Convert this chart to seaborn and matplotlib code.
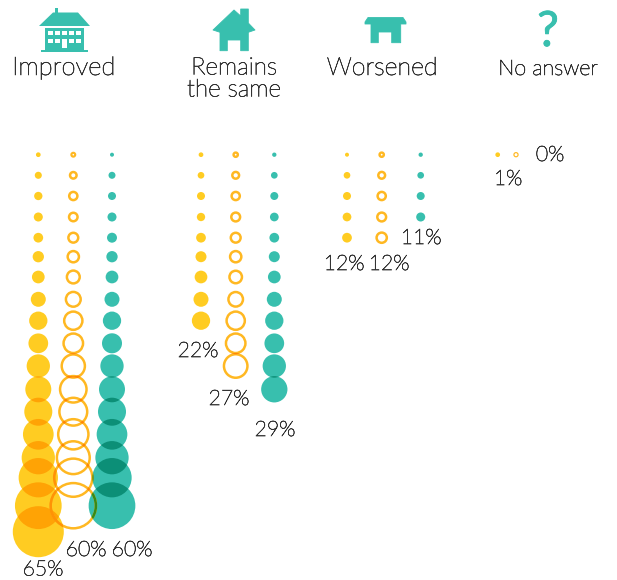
import numpy as np
import pandas as pd
import matplotlib
matplotlib.use("Agg")
import matplotlib.pyplot as plt
import matplotlib.patheffects as pe
import seaborn as sns
from matplotlib.patches import PathPatch, Polygon, Rectangle
from matplotlib.path import Path
from matplotlib.transforms import Affine2D

# bubble values, top row first
improved_fill = [6, 9, 10.6, 11.5, 12.4, 14.4, 16.2, 19.1, 23.3, 25.1, 29.7, 33.1, 35.7, 39.1, 42.4, 50.1, 59.5, 65]
improved_ring = [7.6, 11.5, 13.6, 14, 15.7, 17.5, 19.5, 22, 26.4, 28, 32.7, 36.9, 38.6, 41.7, 45, 51.8, 60.8]
improved_teal = [5.1, 8.9, 10.2, 11.5, 12.7, 14.4, 16.2, 19.1, 23.3, 25.5, 29.7, 33.1, 35.7, 39.1, 42.4, 50.1, 59.5]
same_fill = [6, 8.5, 10.2, 10.6, 12.4, 14, 16.2, 19.1, 23.3]
same_ring = [8.5, 11.8, 13.6, 14.4, 15.7, 17.5, 19.1, 21.7, 26.4, 28, 33.1]
same_teal = [5.5, 8.5, 10.2, 11.1, 12.4, 14, 16.2, 19.1, 23.3, 25.1, 29.7, 33.5]
worse_fill = [5.1, 8.5, 10.2, 11.1, 12.4]
worse_ring = [8.5, 11.8, 13.6, 14.4, 16.2]
worse_teal = [5.5, 8.5, 10.2, 11.5]
none_fill = [6]
none_ring = [6.8]

value_labels = ["65%", "60%", "60%", "22%", "27%", "29%", "12%", "12%", "11%", "1%", "0%"]
group_labels = ["Improved", "Remains", "the same", "Worsened", "No answer"]

# layout, the axes run in figure pixels
row_y = [154.7, 175.3, 196, 217, 237.7, 256.7, 277, 299.3, 320.7, 343.3, 366, 389.3,
         411.7, 434.3, 457.7, 477.7, 505.7, 531.7]
label_xy = [(43, 569.5), (86, 550), (132, 550), (198, 351), (229, 399), (275, 430),
            (344, 264), (389, 264), (421, 238), (508, 179), (550, 155)]
DIAM = 0.785
YELLOW, RING, TEAL = "#FFCC22", "#FFB822", "#38BFAE"
TEXT = "#333333"

series = [
    ("Improved", "fill", 38.3, improved_fill), ("Improved", "ring", 73.3, improved_ring),
    ("Improved", "teal", 112, improved_teal), ("Same", "fill", 201, same_fill),
    ("Same", "ring", 235.7, same_ring), ("Same", "teal", 274.3, same_teal),
    ("Worse", "fill", 347, worse_fill), ("Worse", "ring", 381.7, worse_ring),
    ("Worse", "teal", 420.7, worse_teal), ("None", "fill", 497.7, none_fill),
    ("None", "ring", 516, none_ring),
]
rows = []
for group, kind, x, vals in series:
    for i, v in enumerate(vals):
        rows.append({"group": group, "kind": kind, "x": x, "y": row_y[i], "d": v * DIAM})
df = pd.DataFrame(rows)
# the tiniest rings have a thinner stroke so the hole stays open
df["lw"] = np.where(df["group"] == "None", 1.2, np.minimum(df["d"] * 0.36, 2.5))

sns.set_style("white")
plt.rcParams["font.family"] = ["Lato", "DejaVu Sans"]
fig = plt.figure(figsize=(6.17, 5.80), dpi=100)
ax = fig.add_axes([0, 0, 1, 1])
PX = 72 / fig.dpi
THICKEN = [pe.withStroke(linewidth=0.45, foreground=TEXT)]


def to_rgb(c):
    return np.array(matplotlib.colors.to_rgb(c))


def shape(row):
    r = row.d / 2
    outer = Path.unit_circle().transformed(Affine2D().scale(r).translate(row.x, row.y))
    if row.kind != "ring":
        return outer
    # the flip reverses the winding so the inner circle cuts a hole
    inner = Path.unit_circle().transformed(Affine2D().scale(r - row.lw, -(r - row.lw)).translate(row.x, row.y))
    return Path.make_compound_path(outer, inner)


colors = {"fill": YELLOW, "ring": RING, "teal": TEAL}
for kind, color in [("fill", YELLOW), ("teal", TEAL)]:
    sub = df[df["kind"] == kind]
    sns.scatterplot(data=sub, x="x", y="y", s=(sub["d"] * PX) ** 2, color=color, linewidth=0, ax=ax, zorder=2)

ring_df = df[df["kind"] == "ring"]
sns.scatterplot(data=ring_df, x="x", y="y", s=((ring_df["d"] - ring_df["lw"]) * PX) ** 2, color=RING, ax=ax, zorder=4)
coll = ax.collections[-1]
coll.set_facecolor("none")
coll.set_edgecolor(RING)
coll.set_linewidths(ring_df["lw"].values * PX)

# multiply look where bubbles overlap, fills first and ring crossings on top
marks = pd.concat([df[df["kind"] != "ring"], df[df["kind"] == "ring"]])
marks = list(marks.itertuples())
for i, a in enumerate(marks):
    for b in marks[i + 1:]:
        if a.group != b.group or np.hypot(a.x - b.x, a.y - b.y) >= (a.d + b.d) / 2:
            continue
        has_ring = a.kind == "ring" or b.kind == "ring"
        mix = to_rgb(colors[a.kind]) * to_rgb(colors[b.kind])
        p = PathPatch(shape(b), fc=mix, lw=0, zorder=5 if has_ring else 3)
        ax.add_patch(p)
        p.set_clip_path(shape(a), ax.transData)


def label(x, y, s, size):
    ax.text(x, y, s, ha="center", va="center", fontsize=size, fontweight="light", color=TEXT, path_effects=THICKEN)


for (x, y), s in zip(label_xy, value_labels):
    label(x, y, s, 15.3)

label(64, 68, group_labels[0], 18.5)
label(234, 68, group_labels[1], 17.5)
label(234, 90, group_labels[2], 17.5)
label(382, 68, group_labels[3], 18)
label(548, 69, group_labels[4], 15.5)

# icons
ax.add_patch(Polygon([(39, 26), (53, 12.5), (55, 12.5), (55, 8), (58, 8), (58, 12.5), (78, 12.5), (90, 26)], fc=TEAL, lw=0))
ax.add_patch(Rectangle((45, 28), 39, 22, fc=TEAL, lw=0))
ax.add_patch(Rectangle((41, 49.5), 46.5, 2.5, fc=TEAL, lw=0))
for wx in [48.3, 55, 62.3, 69, 76]:
    ax.add_patch(Rectangle((wx, 30.7), 5, 4.3, fc="white", lw=0))
    ax.add_patch(Rectangle((wx, 38.7), 5, 4.3, fc="white", lw=0))
ax.add_patch(Rectangle((62.3, 38.7), 5, 9.7, fc="white", lw=0))

ax.add_patch(Polygon([(213, 30), (234, 10), (240.7, 16), (240.7, 9), (248.3, 9), (248.3, 23), (255, 30), (248.3, 32.3),
                      (248.3, 50.7), (240.7, 50.7), (240.7, 40), (227.3, 40), (227.3, 50.7), (220, 50.7), (220, 32.3)],
                     fc=TEAL, ec=TEAL, lw=0.6, joinstyle="round"))

ax.add_patch(Polygon([(365, 22), (368, 17.5), (403, 17.5), (406, 22), (406, 24), (400.7, 24), (400.7, 42.7), (391.7, 42.7),
                      (391.7, 32), (378.3, 32), (378.3, 42.7), (371, 42.7), (371, 24), (365, 24)],
                     fc=TEAL, ec=TEAL, lw=0.6, joinstyle="round"))
ax.text(548, 32, "?", ha="center", va="center", fontsize=35, color=TEAL,
        path_effects=[pe.withStroke(linewidth=0.6, foreground=TEAL)])

ax.set_xlim(0, 617)
ax.set_ylim(580, 0)
ax.axis("off")
fig.savefig("out.png", dpi=100)
